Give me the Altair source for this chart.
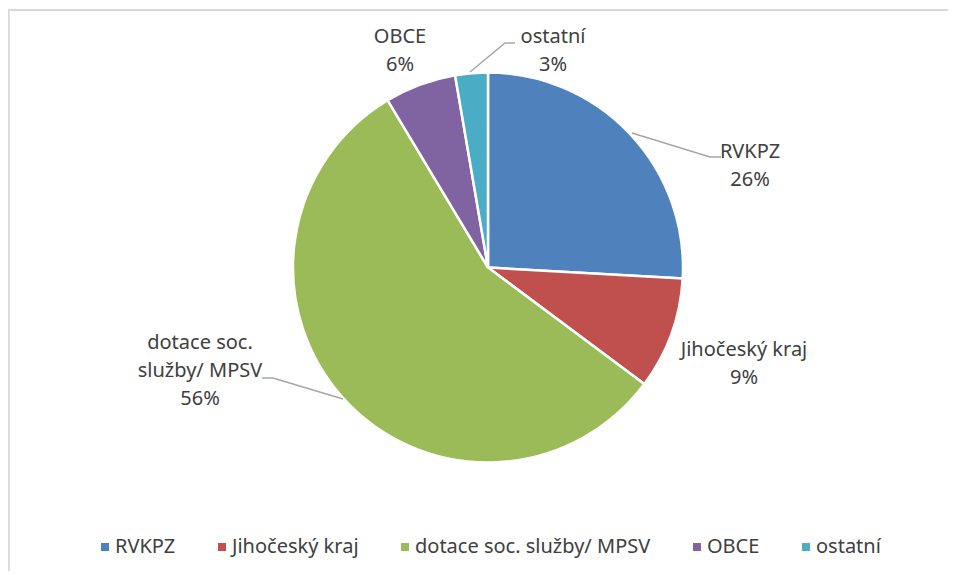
import altair as alt
import pandas as pd

# ---- data ----
categories = ["RVKPZ", "Jihočeský kraj", "dotace soc. služby/ MPSV", "OBCE", "ostatní"]
values = [25.9, 9.3, 56.2, 5.9, 2.7]
label_lines = [["RVKPZ"], ["Jihočeský kraj"], ["dotace soc.", "služby/ MPSV"], ["OBCE"], ["ostatní"]]
colors = ["#4F81BD", "#C0504D", "#9BBB59", "#8064A2", "#4BACC6"]

# ---- layout (pixels within chart) ----
W, H = 940, 563
CX, CY, R = 480, 259.5, 195
label_pos = [(742, 144), (736, 342), (192, 335), (392, 29), (545, 29)]
LINE_H = 28
leaders = {
    "RVKPZ": [(624, 125), (702, 149), (713, 149)],
    "ostatní": [(462, 64), (497, 35), (507, 35)],
    "dotace": [(335, 391), (265, 370), (254, 370)],
}
FONT = "Noto Sans"
FS = 20
TXT = "#404040"

df = pd.DataFrame({"cat": categories, "value": values, "order": range(len(categories))})

rows = []
total = sum(values)
for i, (c, v) in enumerate(zip(categories, values)):
    lines = label_lines[i] + [f"{round(v / total * 100)}%"]
    x0, y0 = label_pos[i]
    for j, t in enumerate(lines):
        rows.append({"x": x0, "y": y0 + j * LINE_H, "t": t})
lab = pd.DataFrame(rows)

lrows = []
for k, pts in leaders.items():
    for j, (x, y) in enumerate(pts):
        lrows.append({"k": k, "i": j, "x": x, "y": y})
ldf = pd.DataFrame(lrows)

pie = alt.Chart(df).mark_arc(outerRadius=R, stroke="white", strokeWidth=2.5).encode(
    theta=alt.Theta("value:Q", stack=True),
    color=alt.Color(
        "cat:N",
        scale=alt.Scale(domain=categories, range=colors),
        sort=categories,
        legend=alt.Legend(
            title=None, orient="none", direction="horizontal",
            legendX=87, legendY=529,
            symbolType="square", symbolSize=64, symbolStrokeWidth=0,
            labelFont=FONT, labelFontSize=FS, labelColor=TXT,
            labelOffset=0, columnPadding=36, labelLimit=400,
        ),
    ),
    order=alt.Order("order:Q"),
    x=alt.value(CX),
    y=alt.value(CY),
)

text = alt.Chart(lab).mark_text(font=FONT, fontSize=FS, color=TXT, align="center", baseline="middle").encode(
    x=alt.X("x:Q", scale=None), y=alt.Y("y:Q", scale=None), text="t:N"
)

lines = alt.Chart(ldf).mark_line(color="#A6A6A6", strokeWidth=1.5).encode(
    x=alt.X("x:Q", scale=None), y=alt.Y("y:Q", scale=None), detail="k:N", order="i:Q"
)

border_v = alt.Chart(df).mark_rule(color="#D9D9D9", strokeWidth=1.5).encode(
    x=alt.value(0.5), y=alt.value(2), y2=alt.value(H)
)
border_h = alt.Chart(df).mark_rule(color="#D9D9D9", strokeWidth=1.5).encode(
    x=alt.value(0), x2=alt.value(W), y=alt.value(2)
)

chart = alt.layer(border_v, border_h, pie, lines, text).properties(
    width=W, height=H, padding=0, autosize=alt.AutoSizeParams(type="none")
).configure_view(stroke=None)

chart.save("out.html", embed_options={"renderer": "svg", "actions": False})
